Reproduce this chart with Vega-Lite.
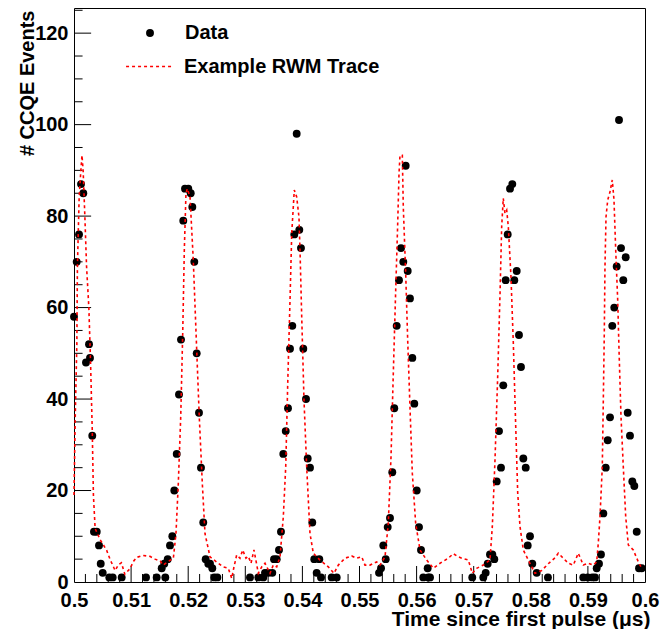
{
  "$schema": "https://vega.github.io/schema/vega-lite/v6.json",
  "width": 571,
  "height": 574,
  "autosize": {"type": "none"},
  "padding": {"left": 74, "top": 8, "right": 25, "bottom": 47},
  "config": {
    "font": "Liberation Sans",
    "view": {"stroke": "black", "strokeWidth": 1},
    "axis": {"domain": false, "ticks": false, "grid": false, "labelFont": "Liberation Sans", "labelFontWeight": "bold", "labelFontSize": 20, "labelColor": "black", "titleFont": "Liberation Sans", "titleFontWeight": "bold", "titleColor": "black", "labelOverlap": false, "labelFlush": false},
    "legend": {"padding": 0, "labelFont": "Liberation Sans", "labelFontWeight": "bold", "labelFontSize": 20, "labelColor": "black", "labelLimit": 400}
  },
  "datasets": {
    "xmajor": [{"t":0.51},{"t":0.52},{"t":0.53},{"t":0.54},{"t":0.55},{"t":0.56},{"t":0.57},{"t":0.58},{"t":0.59}],
    "xminor": [{"t":0.502},{"t":0.504},{"t":0.506},{"t":0.508},{"t":0.512},{"t":0.514},{"t":0.516},{"t":0.518},{"t":0.522},{"t":0.524},{"t":0.526},{"t":0.528},{"t":0.532},{"t":0.534},{"t":0.536},{"t":0.538},{"t":0.542},{"t":0.544},{"t":0.546},{"t":0.548},{"t":0.552},{"t":0.554},{"t":0.556},{"t":0.558},{"t":0.562},{"t":0.564},{"t":0.566},{"t":0.568},{"t":0.572},{"t":0.574},{"t":0.576},{"t":0.578},{"t":0.582},{"t":0.584},{"t":0.586},{"t":0.588},{"t":0.592},{"t":0.594},{"t":0.596},{"t":0.598}],
    "ymajor": [{"n":20},{"n":40},{"n":60},{"n":80},{"n":100},{"n":120}],
    "yminor": [{"n":5},{"n":10},{"n":15},{"n":25},{"n":30},{"n":35},{"n":45},{"n":50},{"n":55},{"n":65},{"n":70},{"n":75},{"n":85},{"n":90},{"n":95},{"n":105},{"n":110},{"n":115},{"n":125}],
    "events": [
      {"t":0.50000,"n":58},{"t":0.50047,"n":70},{"t":0.50088,"n":76},{"t":0.50123,"n":87},{"t":0.50163,"n":85},{"t":0.50210,"n":48},{"t":0.50263,"n":52},{"t":0.50280,"n":49},{"t":0.50320,"n":32},{"t":0.50350,"n":11},{"t":0.50398,"n":11},{"t":0.50438,"n":8},{"t":0.50468,"n":4},{"t":0.50503,"n":2},{"t":0.50618,"n":1},{"t":0.50678,"n":1},{"t":0.50835,"n":1},{"t":0.51261,"n":1},{"t":0.51448,"n":1},{"t":0.51536,"n":3},{"t":0.51581,"n":4},{"t":0.51599,"n":1},
      {"t":0.51641,"n":5},{"t":0.51681,"n":8},{"t":0.51722,"n":10},{"t":0.51757,"n":20},{"t":0.51799,"n":28},{"t":0.51839,"n":41},{"t":0.51874,"n":53},{"t":0.51914,"n":79},{"t":0.51944,"n":86},{"t":0.52002,"n":86},{"t":0.52044,"n":85},{"t":0.52072,"n":82},{"t":0.52107,"n":70},{"t":0.52149,"n":50},{"t":0.52189,"n":37},{"t":0.52224,"n":25},{"t":0.52264,"n":13},{"t":0.52306,"n":5},{"t":0.52352,"n":4},{"t":0.52382,"n":4},{"t":0.52422,"n":3},{"t":0.52457,"n":1},{"t":0.52510,"n":1},
      {"t":0.53082,"n":1},{"t":0.53228,"n":1},{"t":0.53315,"n":1},{"t":0.53345,"n":2},{"t":0.53403,"n":2},{"t":0.53473,"n":2},{"t":0.53503,"n":5},{"t":0.53550,"n":5},{"t":0.53590,"n":7},{"t":0.53625,"n":11},{"t":0.53666,"n":28},{"t":0.53708,"n":33},{"t":0.53748,"n":38},{"t":0.53783,"n":51},{"t":0.53823,"n":56},{"t":0.53858,"n":76},{"t":0.53900,"n":98},{"t":0.53946,"n":77},{"t":0.53975,"n":73},{"t":0.54016,"n":51},{"t":0.54063,"n":40},{"t":0.54093,"n":27},{"t":0.54133,"n":25},{"t":0.54173,"n":13},{"t":0.54208,"n":5},{"t":0.54250,"n":2},{"t":0.54296,"n":5},{"t":0.54326,"n":1},{"t":0.54513,"n":1},{"t":0.54601,"n":1},
      {"t":0.55342,"n":2},{"t":0.55377,"n":3},{"t":0.55417,"n":8},{"t":0.55459,"n":5},{"t":0.55494,"n":12},{"t":0.55534,"n":14},{"t":0.55574,"n":24},{"t":0.55609,"n":38},{"t":0.55651,"n":56},{"t":0.55692,"n":66},{"t":0.55727,"n":73},{"t":0.55767,"n":70},{"t":0.55809,"n":91},{"t":0.55844,"n":68},{"t":0.55884,"n":62},{"t":0.55925,"n":49},{"t":0.55960,"n":39},{"t":0.56002,"n":20},{"t":0.56042,"n":12},{"t":0.56077,"n":7},{"t":0.56117,"n":1},{"t":0.56194,"n":3},{"t":0.56205,"n":1},{"t":0.56235,"n":1},
      {"t":0.56975,"n":1},{"t":0.57168,"n":1},{"t":0.57210,"n":2},{"t":0.57245,"n":4},{"t":0.57285,"n":6},{"t":0.57326,"n":6},{"t":0.57361,"n":5},{"t":0.57403,"n":22},{"t":0.57443,"n":33},{"t":0.57478,"n":25},{"t":0.57518,"n":43},{"t":0.57560,"n":66},{"t":0.57595,"n":76},{"t":0.57636,"n":86},{"t":0.57676,"n":87},{"t":0.57711,"n":66},{"t":0.57753,"n":68},{"t":0.57793,"n":54},{"t":0.57828,"n":47},{"t":0.57869,"n":27},{"t":0.57911,"n":25},{"t":0.57946,"n":8},{"t":0.57986,"n":10},{"t":0.58026,"n":4},{"t":0.58103,"n":2},{"t":0.58300,"n":1},
      {"t":0.58919,"n":1},{"t":0.58996,"n":1},{"t":0.59077,"n":1},{"t":0.59124,"n":1},{"t":0.59154,"n":3},{"t":0.59194,"n":4},{"t":0.59229,"n":6},{"t":0.59270,"n":15},{"t":0.59312,"n":25},{"t":0.59347,"n":31},{"t":0.59387,"n":36},{"t":0.59427,"n":56},{"t":0.59462,"n":60},{"t":0.59504,"n":69},{"t":0.59545,"n":101},{"t":0.59580,"n":73},{"t":0.59620,"n":66},{"t":0.59662,"n":71},{"t":0.59697,"n":37},{"t":0.59737,"n":32},{"t":0.59778,"n":22},{"t":0.59813,"n":21},{"t":0.59855,"n":11},{"t":0.59895,"n":3},{"t":0.59942,"n":3}
    ],
    "trace": [
      {"t":0.5000,"v":19},{"t":0.5002,"v":35},{"t":0.5005,"v":52},{"t":0.5006,"v":69},{"t":0.5009,"v":84},{"t":0.5012,"v":90},{"t":0.5014,"v":93.3},{"t":0.5016,"v":90},{"t":0.5019,"v":80},{"t":0.5022,"v":69},{"t":0.5026,"v":60},{"t":0.5029,"v":48},{"t":0.5032,"v":33},{"t":0.5034,"v":19},{"t":0.5037,"v":11.7},{"t":0.5046,"v":9.2},{"t":0.5057,"v":7},{"t":0.5063,"v":5},{"t":0.5072,"v":2.5},{"t":0.5078,"v":3.8},{"t":0.5083,"v":4.2},{"t":0.5089,"v":1.7},{"t":0.5098,"v":2.9},{"t":0.5104,"v":4.5},{"t":0.5110,"v":5.4},{"t":0.5121,"v":5.8},{"t":0.5133,"v":5.6},{"t":0.5142,"v":5},{"t":0.5151,"v":4.6},{"t":0.5156,"v":3.7},{"t":0.5165,"v":4.5},{"t":0.5174,"v":5.2},
      {"t":0.51786,"v":10.6},{"t":0.51827,"v":21.6},{"t":0.51869,"v":36.1},{"t":0.51904,"v":54.4},{"t":0.51932,"v":72.6},{"t":0.51961,"v":85},{"t":0.51984,"v":86},{"t":0.52032,"v":84.2},{"t":0.52089,"v":70.4},{"t":0.52149,"v":50.7},{"t":0.52194,"v":36.1},{"t":0.52247,"v":21.6},{"t":0.52294,"v":10.6},{"t":0.52382,"v":5.5},{"t":0.52527,"v":4.1},{"t":0.52615,"v":3.3},{"t":0.52702,"v":3.0},{"t":0.52762,"v":0.8},{"t":0.52802,"v":3.3},{"t":0.52849,"v":5.9},{"t":0.52907,"v":5.2},{"t":0.52954,"v":7.0},{"t":0.53012,"v":5.2},{"t":0.53053,"v":5.6},{"t":0.53100,"v":4.1},{"t":0.53152,"v":7},
      {"t":0.53228,"v":1.9},{"t":0.53287,"v":3.3},{"t":0.53345,"v":4.1},{"t":0.53433,"v":1.9},{"t":0.53490,"v":3.7},{"t":0.53550,"v":3.3},{"t":0.53608,"v":5.5},{"t":0.53666,"v":14.3},{"t":0.53708,"v":25.2},{"t":0.53743,"v":43.4},{"t":0.53783,"v":61.6},{"t":0.53813,"v":76.2},{"t":0.53858,"v":85.7},{"t":0.53900,"v":84.2},{"t":0.53940,"v":79.8},{"t":0.53958,"v":72.6},{"t":0.53988,"v":58},{"t":0.54028,"v":39.8},{"t":0.54075,"v":25.2},{"t":0.54133,"v":10.6},{"t":0.54191,"v":6.3},{"t":0.54308,"v":4.8},{"t":0.54454,"v":3.3},{"t":0.54553,"v":1.9},{"t":0.54629,"v":3.7},{"t":0.54746,"v":5.2},{"t":0.54863,"v":5.7},{"t":0.54951,"v":5.2},
      {"t":0.55039,"v":5.5},{"t":0.55096,"v":3.7},{"t":0.55184,"v":3.7},{"t":0.55301,"v":4.4},{"t":0.55359,"v":3.7},{"t":0.55447,"v":5.5},{"t":0.55504,"v":12.8},{"t":0.55552,"v":27.4},{"t":0.55592,"v":45.6},{"t":0.55634,"v":63.8},{"t":0.55669,"v":78.4},{"t":0.55692,"v":89.3},{"t":0.55709,"v":93.3},{"t":0.55750,"v":93.3},{"t":0.55767,"v":82},{"t":0.55809,"v":67.5},{"t":0.55844,"v":52.9},{"t":0.55884,"v":38.3},{"t":0.55925,"v":23.8},{"t":0.55984,"v":12.8},{"t":0.56060,"v":7},{"t":0.56177,"v":4.8},{"t":0.56293,"v":3},{"t":0.56410,"v":4.1},{"t":0.56555,"v":5.2},{"t":0.56643,"v":6.2},{"t":0.56730,"v":5.5},
      {"t":0.56790,"v":5.2},{"t":0.56906,"v":4.8},{"t":0.56976,"v":1.9},{"t":0.57052,"v":3},{"t":0.57168,"v":3.7},{"t":0.57285,"v":4.8},{"t":0.57326,"v":12.1},{"t":0.57373,"v":26.7},{"t":0.57420,"v":44.9},{"t":0.57461,"v":63},{"t":0.57490,"v":77.7},{"t":0.57518,"v":83.9},{"t":0.57548,"v":80.6},{"t":0.57578,"v":81.3},{"t":0.57606,"v":77.7},{"t":0.57653,"v":66.7},{"t":0.57694,"v":52.2},{"t":0.57736,"v":34},{"t":0.57771,"v":19.4},{"t":0.57811,"v":12.1},{"t":0.57869,"v":7},{"t":0.57956,"v":4.8},{"t":0.58074,"v":1.9},{"t":0.58191,"v":2.5},{"t":0.58306,"v":4},{"t":0.58424,"v":5.3},{"t":0.58481,"v":6.3},
      {"t":0.58569,"v":5.2},{"t":0.58657,"v":4.1},{"t":0.58744,"v":3.7},{"t":0.58832,"v":6.3},{"t":0.58919,"v":3.7},{"t":0.59007,"v":4.1},{"t":0.59095,"v":3.7},{"t":0.59154,"v":4.4},{"t":0.59182,"v":8.5},{"t":0.59212,"v":14.3},{"t":0.59252,"v":25.2},{"t":0.59270,"v":39.8},{"t":0.59287,"v":54.4},{"t":0.59299,"v":68.9},{"t":0.59317,"v":79.8},{"t":0.59347,"v":83.5},{"t":0.59387,"v":85.3},{"t":0.59427,"v":87.9},{"t":0.59457,"v":83.5},{"t":0.59487,"v":72.6},{"t":0.59522,"v":61.6},{"t":0.59545,"v":50.7},{"t":0.59580,"v":36.1},{"t":0.59620,"v":25.2},{"t":0.59662,"v":14.3},{"t":0.59708,"v":8.1},{"t":0.59795,"v":7},{"t":0.59883,"v":4.4},{"t":0.59942,"v":3}
    ]
  },
  "layer": [
    {
      "data": {"name": "events"},
      "transform": [{"calculate": "'Data'", "as": "s"}],
      "mark": {"type": "point", "filled": true, "size": 62, "opacity": 1, "color": "black"},
      "encoding": {
        "x": {"field": "t", "type": "quantitative", "scale": {"domain": [0.5, 0.6], "nice": false, "zero": false},
          "axis": {
            "orient": "bottom",
            "title": "Time since first pulse (μs)",
            "titleFontSize": 21, "titleAnchor": "end", "titleAlign": "right", "titleBaseline": "alphabetic", "titleX": 576, "titleY": 43,
            "values": [0.5,0.51,0.52,0.53,0.54,0.55,0.56,0.57,0.58,0.59,0.6],
            "format": "~g",
            "labelPadding": 8
          }},
        "y": {"field": "n", "type": "quantitative", "scale": {"domain": [0, 125.5], "nice": false},
          "axis": {
            "orient": "left",
            "title": "# CCQE Events",
            "titleFontSize": 20, "titleAnchor": "end", "titleAlign": "right", "titleBaseline": "alphabetic", "titleX": -41, "titleY": 2,
            "values": [0,20,40,60,80,100,120],
            "labelPadding": 6
          }},
        "shape": {"field": "s", "type": "nominal", "scale": {"domain": ["Data"], "range": ["circle"]},
          "legend": {"orient": "none", "legendX": 66, "legendY": 15, "title": null, "symbolSize": 62, "symbolFillColor": "black", "symbolStrokeColor": "black", "symbolStrokeWidth": 0, "labelOffset": 25}}
      }
    },
    {
      "data": {"name": "xmajor"},
      "mark": {"type": "rule", "color": "black", "strokeWidth": 1},
      "encoding": {
        "x": {"field": "t", "type": "quantitative"},
        "y": {"datum": 0, "type": "quantitative"},
        "y2": {"datum": 3.5}
      }
    },
    {
      "data": {"name": "xminor"},
      "mark": {"type": "rule", "color": "black", "strokeWidth": 1},
      "encoding": {
        "x": {"field": "t", "type": "quantitative"},
        "y": {"datum": 0, "type": "quantitative"},
        "y2": {"datum": 1.75}
      }
    },
    {
      "data": {"name": "ymajor"},
      "mark": {"type": "rule", "color": "black", "strokeWidth": 1},
      "encoding": {
        "y": {"field": "n", "type": "quantitative"},
        "x": {"datum": 0.5, "type": "quantitative"},
        "x2": {"datum": 0.503}
      }
    },
    {
      "data": {"name": "yminor"},
      "mark": {"type": "rule", "color": "black", "strokeWidth": 1},
      "encoding": {
        "y": {"field": "n", "type": "quantitative"},
        "x": {"datum": 0.5, "type": "quantitative"},
        "x2": {"datum": 0.5015}
      }
    },
    {
      "data": {"name": "trace"},
      "transform": [{"calculate": "'Example RWM Trace'", "as": "s"}],
      "mark": {"type": "line", "color": "#ff0000", "strokeWidth": 1.6, "interpolate": "linear"},
      "encoding": {
        "x": {"field": "t", "type": "quantitative"},
        "y": {"field": "v", "type": "quantitative"},
        "strokeDash": {"field": "s", "type": "nominal", "scale": {"domain": ["Example RWM Trace"], "range": [[3, 3]]},
          "legend": {"orient": "none", "legendX": 51, "legendY": 34, "title": null, "symbolType": "stroke", "symbolSize": 2200, "symbolStrokeColor": "#ff0000", "symbolStrokeWidth": 1.6, "labelOffset": 10}}
      }
    }
  ]
}
